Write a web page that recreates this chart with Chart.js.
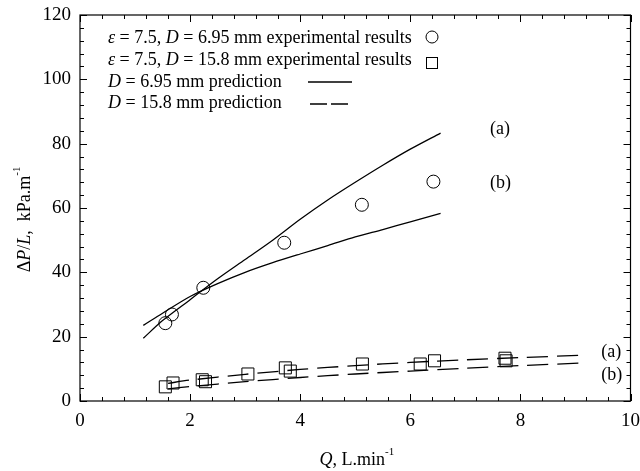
<!DOCTYPE html>
<html>
<head>
<meta charset="utf-8">
<script src="https://cdn.jsdelivr.net/npm/chart.js@4"></script>
<style>
  html, body { margin: 0; padding: 0; background: #fff; }
  #wrap { width: 640px; height: 471px; }
</style>
</head>
<body>
<div id="wrap"><canvas id="myChart" width="640" height="471"></canvas></div>
<script>
// experimental points, D = 6.95 mm
const circleQ = [1.55, 1.67, 2.24, 3.71, 5.12, 6.42];
const circleDP = [24.2, 26.9, 35.2, 49.2, 61.0, 68.2];

// experimental points, D = 15.8 mm
const squareQ = [1.55, 1.69, 2.22, 2.28, 3.05, 3.73, 3.82, 5.13, 6.18, 6.44, 7.72, 7.74];
const squareDP = [4.4, 5.6, 6.6, 6.0, 8.4, 10.3, 9.3, 11.5, 11.5, 12.5, 13.3, 12.5];

// prediction curves, D = 6.95 mm
const predSmallQ = [1.15, 1.5, 2, 2.5, 3, 3.5, 4, 4.5, 5, 5.5, 6, 6.55];
const predSmallA = [19.5, 25, 31.5, 38, 44, 50, 56.5, 62.5, 68, 73.3, 78.3, 83.3];
const predSmallB = [23.5, 27.3, 32.5, 36.5, 40, 43, 45.7, 48.3, 51, 53.3, 55.7, 58.3];

// prediction curves, D = 15.8 mm
const predLargeQ = [1.6, 2, 3, 4, 5, 6, 7, 8, 9.1];
const predLargeA = [5.5, 6.5, 8.3, 9.8, 11, 12, 12.8, 13.5, 14.2];
const predLargeB = [3.8, 4.5, 6.0, 7.3, 8.4, 9.3, 10.2, 11.0, 11.8];

// curve tags
const tagText = ['(a)', '(b)', '(a)', '(b)'];
const tagQ = [7.45, 7.45, 9.47, 9.47];
const tagDP = [84.5, 67.8, 15.3, 8.1];

const serif = '"Liberation Serif", "Times New Roman", serif';

function pts(xs, ys) {
    return xs.map(function (x, i) { return { x: x, y: ys[i] }; });
}

// draw a run of text where some pieces are italic
function richText(ctx, x, y, parts, size) {
    let cx = x;
    parts.forEach(function (p) {
        ctx.font = (p[1] ? 'italic ' : '') + size + 'px ' + serif;
        ctx.fillText(p[0], cx, y);
        cx += ctx.measureText(p[0]).width;
    });
    return cx;
}

function richWidth(ctx, parts, size) {
    let w = 0;
    parts.forEach(function (p) {
        ctx.font = (p[1] ? 'italic ' : '') + size + 'px ' + serif;
        w += ctx.measureText(p[0]).width;
    });
    return w;
}

const framePlugin = {
    id: 'frame',
    afterDatasetsDraw(chart) {
        const ctx = chart.ctx;
        const a = chart.chartArea;
        const xs = chart.scales.x, ys = chart.scales.y;
        ctx.save();
        ctx.strokeStyle = '#000';
        ctx.lineWidth = 1.2;
        ctx.strokeRect(a.left, a.top, a.right - a.left, a.bottom - a.top);

        ctx.lineWidth = 1;
        ctx.beginPath();
        // x ticks, every 0.4, major every 2
        for (let i = 0; i <= 25; i++) {
            const v = i * 0.4;
            const len = (i % 5 === 0) ? 7 : 4;
            const px = Math.round(xs.getPixelForValue(v)) + 0.5;
            ctx.moveTo(px, a.bottom); ctx.lineTo(px, a.bottom - len);
            ctx.moveTo(px, a.top); ctx.lineTo(px, a.top + len);
        }
        // y ticks, every 4, major every 20
        for (let i = 0; i <= 30; i++) {
            const v = i * 4;
            const len = (i % 5 === 0) ? 7 : 4;
            const py = Math.round(ys.getPixelForValue(v)) + 0.5;
            ctx.moveTo(a.left, py); ctx.lineTo(a.left + len, py);
            ctx.moveTo(a.right, py); ctx.lineTo(a.right - len, py);
        }
        ctx.stroke();

        ctx.fillStyle = '#000';
        ctx.textBaseline = 'middle';
        const sz = 18;

        // curve tags
        tagText.forEach(function (t, i) {
            ctx.font = sz + 'px ' + serif;
            ctx.textAlign = 'left';
            ctx.fillText(t, xs.getPixelForValue(tagQ[i]), ys.getPixelForValue(tagDP[i]));
        });

        // legend
        ctx.textAlign = 'left';
        const lx = 108;
        richText(ctx, lx, 38, [['\u03b5', true], [' = 7.5, ', false], ['D', true], [' = 6.95 mm experimental results', false]], sz);
        richText(ctx, lx, 60, [['\u03b5', true], [' = 7.5, ', false], ['D', true], [' = 15.8 mm experimental results', false]], sz);
        richText(ctx, lx, 82, [['D', true], [' = 6.95 mm prediction', false]], sz);
        richText(ctx, lx, 103, [['D', true], [' = 15.8 mm prediction', false]], sz);

        ctx.lineWidth = 1;
        ctx.beginPath();
        ctx.arc(432, 37, 6, 0, Math.PI * 2);
        ctx.stroke();
        ctx.strokeRect(426.5, 57.5, 11, 11);

        ctx.lineWidth = 1.3;
        ctx.beginPath();
        ctx.moveTo(308, 82); ctx.lineTo(352, 82);
        ctx.stroke();
        ctx.setLineDash([17, 4]);
        ctx.beginPath();
        ctx.moveTo(310, 104); ctx.lineTo(350, 104);
        ctx.stroke();
        ctx.setLineDash([]);

        // x axis title
        const xParts = [['Q', true], [', L.min', false]];
        const xw = richWidth(ctx, xParts, sz) + 6;
        const xc = (a.left + a.right) / 2;
        let end = richText(ctx, xc - xw / 2, 460, xParts, sz);
        ctx.font = '11px ' + serif;
        ctx.fillText('-1', end, 452);

        // y axis title
        ctx.translate(25, 221);
        ctx.rotate(-Math.PI / 2);
        const yParts = [['\u0394', false], ['P', true], ['/', false], ['L', true], [',  kPa.m', false]];
        const yw = richWidth(ctx, yParts, sz) + 6;
        end = richText(ctx, -yw / 2, 0, yParts, sz);
        ctx.font = '11px ' + serif;
        ctx.fillText('-1', end, -8);
        ctx.restore();
    }
};

const lineStyle = {
    showLine: true,
    pointRadius: 0,
    borderColor: '#000',
    borderWidth: 1.3,
    tension: 0.3,
    fill: false
};

let chartCtx = document.getElementById('myChart').getContext('2d');

let chart = new Chart(chartCtx, {
    type: 'scatter',
    data: {
        datasets: [
            Object.assign({ label: 'D = 6.95 mm prediction (a)', data: pts(predSmallQ, predSmallA) }, lineStyle),
            Object.assign({ label: 'D = 6.95 mm prediction (b)', data: pts(predSmallQ, predSmallB) }, lineStyle),
            Object.assign({ label: 'D = 15.8 mm prediction (a)', data: pts(predLargeQ, predLargeA), borderDash: [21, 9] }, lineStyle),
            Object.assign({ label: 'D = 15.8 mm prediction (b)', data: pts(predLargeQ, predLargeB), borderDash: [21, 9] }, lineStyle),
            {
                label: 'D = 6.95 mm experimental results',
                data: pts(circleQ, circleDP),
                pointStyle: 'circle',
                pointRadius: 6.5,
                backgroundColor: 'rgba(0,0,0,0)',
                borderColor: '#000',
                borderWidth: 1
            },
            {
                label: 'D = 15.8 mm experimental results',
                data: pts(squareQ, squareDP),
                pointStyle: 'rect',
                pointRadius: 8.5,
                backgroundColor: 'rgba(0,0,0,0)',
                borderColor: '#000',
                borderWidth: 1
            }
        ]
    },
    options: {
        responsive: false,
        animation: false,
        layout: { padding: { top: 15, right: 9, left: 0, bottom: 0 } },
        plugins: {
            legend: { display: false },
            tooltip: { enabled: false }
        },
        scales: {
            x: {
                type: 'linear',
                min: 0,
                max: 10,
                grid: { display: false, drawTicks: false },
                border: { display: false },
                ticks: {
                    stepSize: 2,
                    padding: 9,
                    color: '#000',
                    font: { family: serif, size: 19 }
                },
                afterFit: function (s) {
                    s.height = 70;
                    s.paddingLeft = 0;
                    s.paddingRight = 0;
                }
            },
            y: {
                type: 'linear',
                min: 0,
                max: 120,
                grid: { display: false, drawTicks: false },
                border: { display: false },
                ticks: {
                    stepSize: 20,
                    padding: 9,
                    color: '#000',
                    font: { family: serif, size: 19 }
                },
                afterFit: function (s) {
                    s.width = 80;
                    s.paddingTop = 0;
                    s.paddingBottom = 0;
                }
            }
        }
    },
    plugins: [framePlugin]
});
</script>
</body>
</html>
